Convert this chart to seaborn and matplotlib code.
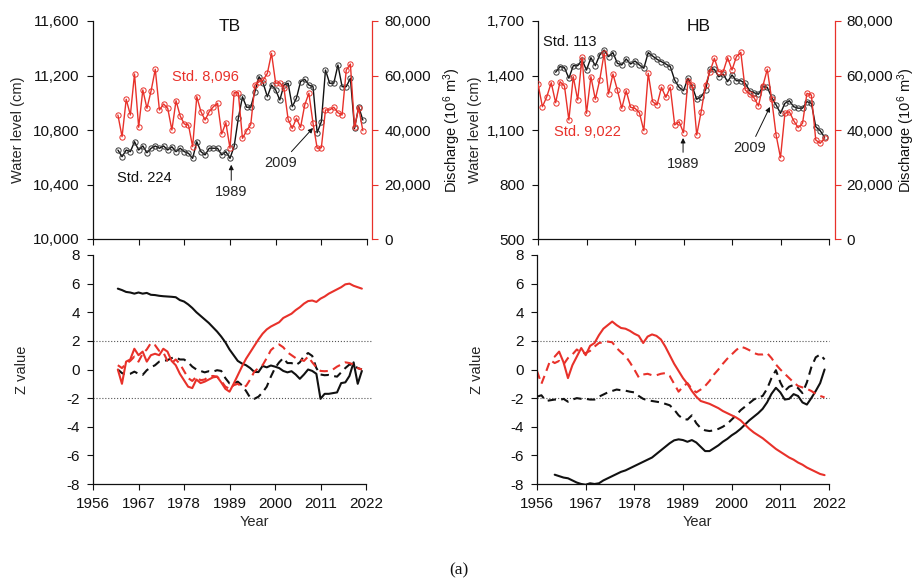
import matplotlib
matplotlib.use("Agg")
import matplotlib.pyplot as plt
import numpy as np
import pandas as pd
import seaborn as sns
from matplotlib.ticker import FuncFormatter

# ---------------- data ----------------
tb_years = list(range(1962, 2022))
tb_level = [10653, 10604, 10653, 10641, 10714, 10653, 10683, 10633, 10666, 10683,
            10666, 10683, 10653, 10677, 10641, 10666, 10641, 10629, 10592, 10714,
            10641, 10617, 10666, 10666, 10666, 10617, 10641, 10592, 10680, 10886,
            11044, 10967, 10967, 11080, 11191, 11143, 11044, 11130, 11094, 11020,
            11130, 11143, 10971, 11033, 11155, 11172, 11130, 11118, 10780, 10861,
            11240, 11143, 11143, 11277, 11118, 11118, 11180, 10812, 10971, 10873]
tb_flow = [45500, 37550, 51270, 45500, 60560, 41000, 54700, 47960, 54430, 62280,
           47340, 49540, 47960, 40000, 50760, 45140, 42200, 41840, 33880, 52230,
           46720, 43670, 46720, 48550, 49800, 38535, 42690, 33280, 53690, 53690,
           36950, 39750, 42000, 56500, 57700, 58350, 60800, 68150, 57150, 57350,
           55300, 43900, 40600, 44300, 41000, 49200, 53500, 42450, 33300, 33500,
           47350, 47350, 48350, 46350, 45500, 62000, 64200, 41000, 48200, 39750]

hb_level_years = list(range(1960, 2022))
hb_level = [1418, 1449, 1443, 1385, 1454, 1454, 1485, 1430, 1498, 1454,
            1513, 1540, 1504, 1526, 1467, 1458, 1491, 1463, 1480, 1458,
            1440, 1526, 1507, 1489, 1476, 1463, 1449, 1375, 1335, 1316,
            1385, 1338, 1269, 1283, 1320, 1434, 1434, 1393, 1408, 1366,
            1403, 1371, 1371, 1357, 1316, 1305, 1297, 1338, 1335, 1280,
            1238, 1192, 1247, 1261, 1228, 1220, 1220, 1256, 1247, 1118,
            1096, 1060]
hb_flow_years = list(range(1956, 2022))
hb_flow = [56900, 48550, 52230, 57360, 50020, 57730, 56150, 43670, 59560, 51010,
           66680, 46130, 59560, 51270, 58350, 68150, 53215, 60555, 54680, 47970,
           54430, 48340, 47970, 46350, 39750, 60810, 50390, 49180, 55670, 52000,
           55670, 41840, 43050, 39010, 57990, 56520, 38170, 46720, 56520, 61400,
           66320, 61400, 61400, 66540, 62020, 66900, 68520, 54680, 53215, 51860,
           48810, 56150, 62280, 51270, 38170, 29840, 46130, 46720, 43420, 40850,
           42460, 53470, 52850, 36330, 35120, 36960]

# sequential Mann-Kendall statistics (UF forward, UB backward)
tb_uf_level = [5.65, 5.55, 5.42, 5.38, 5.30, 5.38, 5.30, 5.35, 5.22, 5.20,
               5.15, 5.12, 5.10, 5.08, 5.05, 4.85, 4.75, 4.55, 4.30, 4.00,
               3.75, 3.50, 3.25, 2.95, 2.65, 2.30, 1.90, 1.40, 1.00, 0.60,
               0.42, 0.30, 0.10, -0.17, -0.18, 0.25, 0.15, 0.28, 0.20, 0.10,
               -0.10, -0.20, -0.12, -0.35, -0.65, -0.35, 0.00, -0.10, -0.30, -2.05,
               -1.70, -1.70, -1.65, -1.60, -0.95, -0.90, -0.45, 0.50, -1.00, -0.10]
tb_ub_level = [0.00, -0.25, -0.35, -0.30, -0.15, -0.30, -0.38, -0.05, 0.15, 0.30,
               0.55, 0.60, 0.65, 0.80, 0.85, 0.70, 0.70, 0.50, 0.20, 0.00,
               -0.10, -0.20, -0.12, -0.15, -0.05, -0.10, -0.60, -0.97, -0.97, -0.85,
               -1.10, -1.50, -1.97, -2.05, -1.90, -1.60, -1.20, -0.50, 0.10, 0.50,
               0.80, 0.45, 0.45, 0.30, 0.50, 0.95, 1.15, 0.95, 0.10, -0.35,
               -0.40, -0.38, -0.45, -0.50, -0.20, 0.10, 0.35, 0.30, 0.10, 0.00]
tb_uf_flow = [0.00, -1.00, 0.55, 0.70, 1.45, 1.00, 1.25, 0.55, 1.00, 1.10,
              1.00, 1.45, 1.25, 0.60, 0.30, -0.30, -0.75, -1.20, -1.30, -0.70,
              -0.95, -0.85, -0.70, -0.55, -0.50, -0.90, -1.35, -1.55, -1.00, -0.40,
              0.20, 0.75, 1.20, 1.65, 2.10, 2.50, 2.80, 3.00, 3.15, 3.30,
              3.60, 3.75, 3.90, 4.15, 4.35, 4.60, 4.78, 4.82, 4.72, 4.95,
              5.10, 5.30, 5.45, 5.60, 5.75, 5.95, 6.00, 5.85, 5.75, 5.65]
tb_ub_flow = [0.30, 0.10, 0.40, 0.60, 0.90, 0.55, 1.10, 1.40, 1.85, 1.70,
              1.30, 1.20, 0.60, 0.45, 0.70, 0.40, -0.10, -0.60, -0.80, -0.50,
              -0.75, -0.70, -0.50, -0.45, -0.50, -0.80, -1.20, -1.35, -1.10, -1.00,
              -1.20, -1.15, -0.70, -0.15, 0.10, 0.30, 0.80, 1.35, 1.60, 1.75,
              1.55, 1.20, 1.00, 0.80, 0.70, 0.60, 0.90, 0.50, 0.15, -0.10,
              -0.12, -0.10, 0.00, 0.20, 0.35, 0.50, 0.45, 0.35, 0.10, 0.00]

hb_uf_level = [-7.35, -7.45, -7.55, -7.60, -7.75, -7.90, -8.00, -8.05, -7.95, -8.00,
               -7.95, -7.75, -7.60, -7.45, -7.30, -7.15, -7.05, -6.90, -6.75, -6.60,
               -6.45, -6.30, -6.15, -5.90, -5.65, -5.40, -5.15, -4.95, -4.88, -4.93,
               -5.05, -4.93, -5.10, -5.40, -5.70, -5.70, -5.50, -5.30, -5.05, -4.85,
               -4.60, -4.40, -4.15, -3.85, -3.55, -3.30, -3.05, -2.75, -2.30, -1.70,
               -1.28, -1.60, -2.10, -2.05, -1.72, -1.85, -2.30, -2.45, -2.00, -1.50,
               -0.95, 0.00]
hb_ub_level = [-1.90, -1.80, -2.20, -2.15, -2.10, -2.15, -2.05, -2.25, -2.10, -2.00,
               -2.05, -2.05, -2.10, -2.10, -1.90, -1.75, -1.60, -1.50, -1.40, -1.45,
               -1.48, -1.55, -1.60, -1.85, -2.05, -2.15, -2.20, -2.25, -2.30, -2.40,
               -2.50, -2.80, -3.20, -3.45, -3.50, -3.20, -3.75, -4.10, -4.25, -4.30,
               -4.25, -4.15, -4.00, -3.80, -3.50, -3.20, -2.85, -2.60, -2.35, -2.10,
               -1.95, -1.85, -1.35, -0.60, -0.05, -0.90, -1.50, -1.20, -1.08, -1.30,
               -1.65, -0.90, 0.15, 0.85, 1.05, 0.70]
hb_uf_flow = [0.90, 1.25, 0.50, -0.60, 0.30, 0.90, 1.50, 1.00, 1.65, 1.85,
              2.40, 2.85, 3.10, 3.35, 3.10, 2.90, 2.85, 2.70, 2.50, 2.35,
              1.85, 2.30, 2.45, 2.35, 2.10, 1.60, 1.00, 0.40, -0.10, -0.60,
              -1.00, -1.50, -1.90, -2.20, -2.30, -2.40, -2.55, -2.70, -2.90, -3.05,
              -3.20, -3.35, -3.55, -3.85, -4.15, -4.40, -4.60, -4.80, -5.05, -5.30,
              -5.55, -5.75, -5.95, -6.15, -6.30, -6.50, -6.65, -6.85, -7.00, -7.15,
              -7.30, -7.38]
hb_ub_flow = [-0.10, -1.00, -0.20, 0.65, 0.45, 0.60, 0.35, 0.80, 1.05, 1.40,
              1.15, 1.15, 1.30, 1.60, 1.85, 1.90, 1.95, 1.90, 1.50, 1.20,
              0.95, 0.50, 0.00, -0.55, -0.35, -0.30, -0.40, -0.40, -0.30, -0.25,
              -0.45, -1.00, -1.55, -1.20, -0.95, -1.35, -1.60, -1.40, -1.15, -0.80,
              -0.35, 0.00, 0.40, 0.75, 1.05, 1.35, 1.60, 1.50, 1.35, 1.15,
              1.05, 1.05, 1.15, 0.80, 0.35, 0.00, -0.30, -0.60, -0.90, -1.15,
              -1.25, -1.35, -1.50, -1.70, -1.85, -1.95]

year_ticks = [1956, 1967, 1978, 1989, 2000, 2011, 2022]
tb_level_ticks = [10000, 10400, 10800, 11200, 11600]
hb_level_ticks = [500, 800, 1100, 1400, 1700]
flow_ticks = [0, 20000, 40000, 60000, 80000]
z_ticks = [-8, -6, -4, -2, 0, 2, 4, 6, 8]

# ---------------- style ----------------
sns.set_style("ticks")
plt.rcParams["font.family"] = ["Liberation Sans", "DejaVu Sans"]
plt.rcParams["axes.unicode_minus"] = False
plt.rcParams["mathtext.fontset"] = "custom"
plt.rcParams["mathtext.rm"] = "Liberation Sans"
plt.rcParams["mathtext.it"] = "Liberation Sans:italic"

RED = "#e8312a"
BLACK = "#111111"
FS = 11
LFS = 10.5
comma = FuncFormatter(lambda v, p: f"{v:,.0f}")

W, H = 917, 581
fig = plt.figure(figsize=(W / 100, H / 100), dpi=100)


def box(l, t, r, b):
    return [l / W, 1 - b / H, (r - l) / W, (b - t) / H]


def style_axis(ax):
    ax.tick_params(axis="both", direction="out", length=4.5, width=0.8,
                   labelsize=FS, colors=BLACK, pad=5)
    for s in ("top", "right"):
        ax.spines[s].set_visible(False)
    for s in ("left", "bottom"):
        ax.spines[s].set_color(BLACK)
        ax.spines[s].set_linewidth(0.9)
    ax.set_xlim(1956, 2022)
    ax.set_xticks(year_ticks)


def top_panel(rect, years_l, level, years_q, flow, ylim, yticks, title, title_x,
              ylab_x, rlab_x):
    ax = fig.add_axes(rect)
    style_axis(ax)
    ax.tick_params(axis="x", labelbottom=False)
    sns.lineplot(x=years_l, y=level, ax=ax, color=BLACK, lw=1.0, marker="o",
                 markersize=3.8, markerfacecolor="none", markeredgecolor="#3a3a3a",
                 markeredgewidth=0.7)
    ax.set_ylim(*ylim)
    ax.set_yticks(yticks)
    ax.yaxis.set_major_formatter(comma)
    ax.set_ylabel("Water level (cm)", fontsize=LFS)
    ax.yaxis.set_label_coords(ylab_x, 0.5)
    ax.set_xlabel("")
    ax.text(title_x, 0.975, title, transform=ax.transAxes, ha="center", va="center",
            fontsize=12.5, color=BLACK)

    tw = ax.twinx()
    sns.lineplot(x=years_q, y=flow, ax=tw, color=RED, lw=1.0, marker="o",
                 markersize=3.8, markerfacecolor="none", markeredgecolor=RED,
                 markeredgewidth=0.7)
    tw.set_ylim(0, 80000)
    tw.set_yticks(flow_ticks)
    tw.yaxis.set_major_formatter(comma)
    for s in ("top", "left", "bottom"):
        tw.spines[s].set_visible(False)
    tw.spines["right"].set_position(("axes", 1.02))
    tw.spines["right"].set_color(RED)
    tw.spines["right"].set_linewidth(0.9)
    tw.tick_params(axis="y", direction="out", length=4.5, width=0.8, colors=RED,
                   labelcolor=BLACK, labelsize=FS, pad=4)
    tw.set_ylabel("Discharge (10$^{6}$ m$^{3}$)", fontsize=LFS, color=BLACK)
    tw.yaxis.set_label_coords(rlab_x, 0.5)
    return ax, tw


def z_panel(rect, curves, ylab_x, xlab_x, line_end):
    ax = fig.add_axes(rect)
    style_axis(ax)
    for yv in (2, -2):
        ax.plot([1956, line_end], [yv, yv], ls=":", color="#555555", lw=0.8,
                clip_on=False, zorder=1)
    for yrs, vals, color, dashed in curves:
        kw = dict(linestyle=(0, (4, 2.6))) if dashed else {}
        sns.lineplot(x=yrs, y=vals, ax=ax, color=color, lw=1.5, **kw)
    ax.set_ylim(-8, 8)
    ax.set_yticks(z_ticks)
    ax.set_ylabel("Z value", fontsize=LFS)
    ax.yaxis.set_label_coords(ylab_x, 0.5)
    ax.set_xlabel("Year", fontsize=LFS)
    ax.xaxis.set_label_coords(xlab_x, -0.135)
    return ax


# ---------------- TB ----------------
ax_tb, tw_tb = top_panel(box(93, 21, 367, 239), tb_years, tb_level, tb_years, tb_flow,
                         (10000, 11600), tb_level_ticks, "TB", 0.5, -0.25, 1.272)
ax_tb.text(1983, 11189, "Std. 8,096", color=RED, fontsize=10.5, ha="center", va="center")
ax_tb.text(1968.3, 10448, "Std. 224", color=BLACK, fontsize=10.5, ha="center", va="center")
arrow = dict(arrowstyle="-|>", color=BLACK, lw=0.7, mutation_scale=7, shrinkA=1, shrinkB=0)
ax_tb.annotate("1989", xy=(1989.3, 10545), xytext=(1989.3, 10345), fontsize=10.5,
               ha="center", va="center", arrowprops=arrow)
ax_tb.annotate("2009", xy=(2009, 10815), xytext=(2001.3, 10558), fontsize=10.5,
               ha="center", va="center", arrowprops=arrow)

z_panel(box(93, 255, 366, 484),
        [(tb_years, tb_ub_level, BLACK, True),
         (tb_years, tb_uf_level, BLACK, False),
         (tb_years, tb_ub_flow, RED, True),
         (tb_years, tb_uf_flow, RED, False)],
        -0.233, 0.59, 2023.5)

# ---------------- HB ----------------
ax_hb, tw_hb = top_panel(box(538, 21, 829, 239), hb_level_years, hb_level,
                         hb_flow_years, hb_flow, (500, 1700), hb_level_ticks, "HB",
                         0.553, -0.194, 1.228)
ax_hb.text(1963.3, 1584, "Std. 113", color=BLACK, fontsize=10.5, ha="center", va="center")
ax_hb.text(1967.1, 1089, "Std. 9,022", color=RED, fontsize=10.5, ha="center", va="center")
ax_hb.annotate("1989", xy=(1988.9, 1056), xytext=(1988.9, 913), fontsize=10.5,
               ha="center", va="center", arrowprops=arrow)
ax_hb.annotate("2009", xy=(2008.6, 1227), xytext=(2004.1, 1001), fontsize=10.5,
               ha="center", va="center", arrowprops=arrow)

z_panel(box(537, 255, 829, 484),
        [(hb_flow_years, hb_ub_level, BLACK, True),
         (hb_level_years, hb_uf_level, BLACK, False),
         (hb_flow_years, hb_ub_flow, RED, True),
         (hb_level_years, hb_uf_flow, RED, False)],
        -0.183, 0.548, 2022)

fig.text(0.5, 1 - 570 / H, "(a)", ha="center", va="center", fontsize=12.5,
         family=["Liberation Serif", "DejaVu Serif"], color=BLACK)

fig.savefig("out.png", dpi=100)
